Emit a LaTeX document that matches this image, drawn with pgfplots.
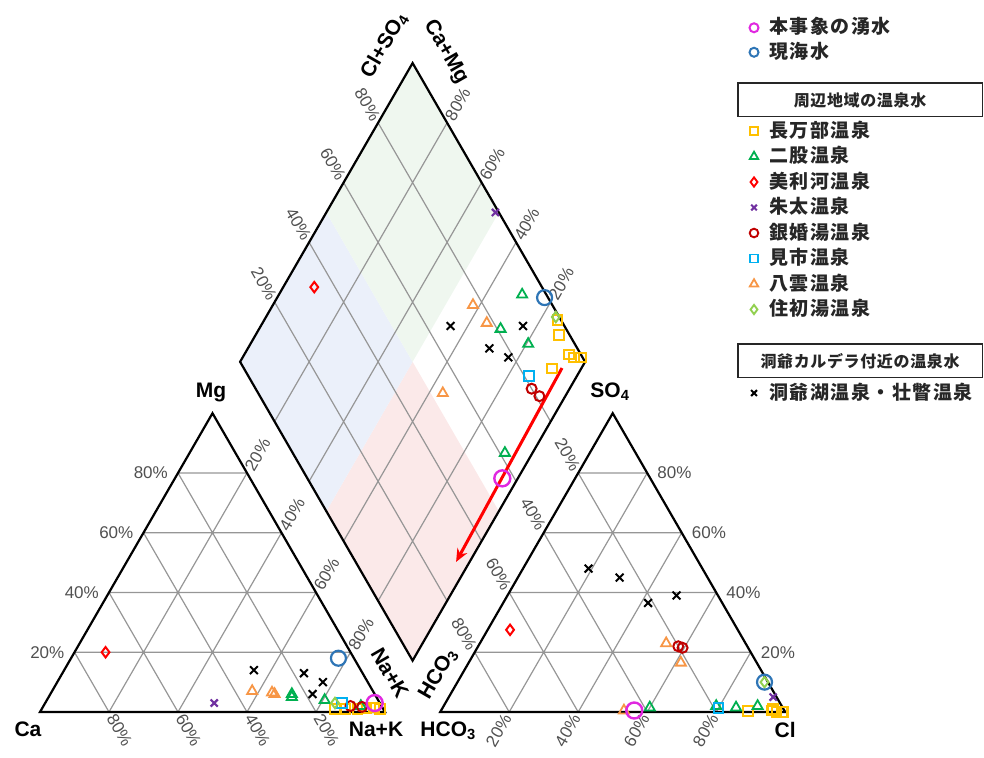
\documentclass[border=0pt]{standalone}
\usepackage{fontspec}
\setmainfont{Liberation Sans}
\newfontfamily\cjk{Noto Sans CJK JP}[LetterSpace=8]
\newfontfamily\cjkb{Noto Sans CJK JP}[LetterSpace=4]
\usepackage{pgfplots}
\usepackage{pgfplotstable}
\pgfplotsset{compat=1.18}
\usetikzlibrary{arrows.meta}

\definecolor{cMag}{RGB}{224,40,224}
\definecolor{cBlue}{RGB}{46,117,182}
\definecolor{cYel}{RGB}{255,192,0}
\definecolor{cGrn}{RGB}{0,176,80}
\definecolor{cRed}{RGB}{255,0,0}
\definecolor{cPur}{RGB}{112,48,160}
\definecolor{cDred}{RGB}{192,0,0}
\definecolor{cCyan}{RGB}{0,176,240}
\definecolor{cOra}{RGB}{247,150,70}
\definecolor{cLgrn}{RGB}{146,208,80}
\definecolor{cTick}{RGB}{80,80,80}
\definecolor{cGrid}{RGB}{150,150,150}
\definecolor{cPink}{RGB}{251,233,233}
\definecolor{cBlu}{RGB}{235,240,250}
\definecolor{cGre}{RGB}{239,247,239}

% columns: Na+K %, Mg % (cations, meq%), Cl %, SO4 % (anions, meq%)
\pgfplotstableread{
nak mg cl so4
95.5 3 56 0.5
}\dataHon
\pgfplotstableread{
nak mg cl so4
77.5 18 89 10
}\dataSea
\pgfplotstableread{
nak mg cl so4
85 1 99 0
88 1 96 1
94 1.2 96 0.5
96 1.5 97.5 0
91.5 1 89 0.3
98 1 99.5 0
}\dataOsha
\pgfplotstableread{
nak mg cl so4
70.5 5 91 2
70 6 79 2
80.5 4 85 1.5
92 2 60 1.5
}\dataFuta
\pgfplotstableread{
nak mg cl so4
9 20 6.5 27.5
}\dataPiri
\pgfplotstableread{
nak mg cl so4
49 3 94 5
}\dataShu
\pgfplotstableread{
nak mg cl so4
89 2 58 22
92.5 1.7 59.5 21.5
}\dataGin
\pgfplotstableread{
nak mg cl so4
86 3 80 1.3
}\dataMii
\pgfplotstableread{
nak mg cl so4
58 7 54 23
65 6 61.5 16.5
64 6.5 53 0.5
}\dataYaku
\pgfplotstableread{
nak mg cl so4
84 3 89 10
}\dataSumi
\pgfplotstableread{
nak mg cl so4
55 14 19 48
70 13 29.5 45
77 10 42 36.5
76 6 49 39
}\dataToya

% one sample set drawn in the cation triangle, the anion triangle and the diamond
\newcommand{\piper}[2]{%
  \addplot[#1, only marks, forget plot] table[x expr={\thisrow{nak}+0.5*\thisrow{mg}}, y expr={0.866*\thisrow{mg}}] {#2};
  \addplot[#1, only marks, forget plot] table[x expr={116+\thisrow{cl}+0.5*\thisrow{so4}}, y expr={0.866*\thisrow{so4}}] {#2};
  \addplot[#1, only marks, forget plot] table[x expr={108+0.5*(\thisrow{cl}+\thisrow{so4}-100+\thisrow{nak})}, y expr={14.9+0.866*(\thisrow{cl}+\thisrow{so4}+100-\thisrow{nak})}] {#2};
}
\newcommand{\legA}[1]{\rule[-6.5bp]{0pt}{24.5bp}#1}
\newcommand{\legB}[1]{\rule[-6.5bp]{0pt}{25.5bp}#1}
% #2 = total strut height, #3 = depth below baseline
\newcommand{\legbox}[3]{\rule[-#3]{0pt}{#2}\hspace*{-32bp}{\setlength{\fboxsep}{0pt}\setlength{\fboxrule}{1.5bp}\fbox{\makebox[243bp]{\rule[-9.5bp]{0pt}{32bp}{\cjkb\bfseries\fontsize{16bp}{16bp}\selectfont #1}}}}}

\tikzset{
  tk/.style={font=\fontsize{17bp}{20bp}\selectfont, text=cTick, inner sep=4bp},
  al/.style={font=\bfseries\fontsize{21bp}{24bp}\selectfont, inner sep=0pt},
}

\begin{document}
\begin{tikzpicture}
\begin{axis}[
  x=3.45bp, y=3.45bp,
  xmin=-11.594, xmax=273.623, ymin=-13.043, ymax=206.377,
  hide axis, clip=false,
  legend style={at={(axis cs:204.93,201.88)}, anchor=north west, draw=none, fill=none,
    inner sep=0pt, outer sep=0pt, row sep=0pt,
    font=\cjk\bfseries\fontsize{19bp}{20bp}\selectfont, text=black!85,
    nodes={inner sep=0pt, text depth=},
    /tikz/every odd column/.append style={column sep=8bp}},
  legend cell align=left,
  legend image code/.code={\path[draw=none,fill=none] (-7bp,-7bp) rectangle (7bp,7bp); \draw[#1] plot coordinates {(0bp,0bp)};},
]
% background tints of the diamond
\addplot[fill=cPink, draw=none, forget plot] coordinates {(108,14.9) (83,58.2) (108,101.5) (133,58.2)};
\addplot[fill=cBlu, draw=none, forget plot] coordinates {(83,58.2) (58,101.5) (83,144.8) (108,101.5)};
\addplot[fill=cGre, draw=none, forget plot] coordinates {(108,101.5) (83,144.8) (108,188.1) (133,144.8)};

% grid lines
\addplot[cGrid, line width=1.2bp, forget plot, unbounded coords=jump] coordinates {
 (10,17.32)(90,17.32) (nan,nan) (20,34.64)(80,34.64) (nan,nan) (30,51.96)(70,51.96) (nan,nan) (40,69.28)(60,69.28) (nan,nan)
 (80,0)(40,69.28) (nan,nan) (60,0)(30,51.96) (nan,nan) (40,0)(20,34.64) (nan,nan) (20,0)(10,17.32) (nan,nan)
 (20,0)(60,69.28) (nan,nan) (40,0)(70,51.96) (nan,nan) (60,0)(80,34.64) (nan,nan) (80,0)(90,17.32)};
\addplot[cGrid, line width=1.2bp, forget plot, unbounded coords=jump] coordinates {
 (126,17.32)(206,17.32) (nan,nan) (136,34.64)(196,34.64) (nan,nan) (146,51.96)(186,51.96) (nan,nan) (156,69.28)(176,69.28) (nan,nan)
 (196,0)(156,69.28) (nan,nan) (176,0)(146,51.96) (nan,nan) (156,0)(136,34.64) (nan,nan) (136,0)(126,17.32) (nan,nan)
 (136,0)(176,69.28) (nan,nan) (156,0)(186,51.96) (nan,nan) (176,0)(196,34.64) (nan,nan) (196,0)(206,17.32)};
\addplot[cGrid, line width=1.2bp, forget plot, unbounded coords=jump] coordinates {
 (98,32.22)(148,118.82) (nan,nan) (88,49.54)(138,136.14) (nan,nan) (78,66.86)(128,153.46) (nan,nan) (68,84.18)(118,170.78) (nan,nan)
 (118,32.22)(68,118.82) (nan,nan) (128,49.54)(78,136.14) (nan,nan) (138,66.86)(88,153.46) (nan,nan) (148,84.18)(98,170.78)};

% outlines
\addplot[black, line width=2.2bp, forget plot] coordinates {(0,0) (100,0) (50,86.6) (0,0)} -- cycle;
\addplot[black, line width=2.2bp, forget plot] coordinates {(116,0) (216,0) (166,86.6) (116,0)} -- cycle;
\addplot[black, line width=2.2bp, forget plot] coordinates {(108,14.9) (58,101.5) (108,188.1) (158,101.5) (108,14.9)} -- cycle;

% legend
\addlegendimage{only marks, mark=o, color=cMag, mark size=4.5bp, line width=2bp}
\addlegendentry{\legA{本事象の湧水}}
\addlegendimage{only marks, mark=o, color=cBlue, mark size=4.5bp, line width=2bp}
\addlegendentry{\legA{現海水}}
\addlegendimage{empty legend}
\addlegendentry{\legbox{周辺地域の温泉水}{53.75bp}{12.25bp}}
\addlegendimage{only marks, mark=square, color=cYel, mark size=4bp, line width=1.9bp}
\addlegendentry{\legB{長万部温泉}}
\addlegendimage{only marks, mark=triangle, color=cGrn, mark size=4.8bp, line width=1.8bp}
\addlegendentry{\legB{二股温泉}}
\addlegendimage{only marks, mark=diamond, color=cRed, mark size=4.6bp, line width=1.9bp}
\addlegendentry{\legB{美利河温泉}}
\addlegendimage{only marks, mark=x, color=cPur, mark size=4bp, line width=2.1bp}
\addlegendentry{\legB{朱太温泉}}
\addlegendimage{only marks, mark=o, color=cDred, mark size=4.3bp, line width=1.9bp}
\addlegendentry{\legB{銀婚湯温泉}}
\addlegendimage{only marks, mark=square, color=cCyan, mark size=4bp, line width=1.9bp}
\addlegendentry{\legB{見市温泉}}
\addlegendimage{only marks, mark=triangle, color=cOra, mark size=4.8bp, line width=1.8bp}
\addlegendentry{\legB{八雲温泉}}
\addlegendimage{only marks, mark=diamond, color=cLgrn, mark size=4.6bp, line width=1.9bp}
\addlegendentry{\legB{住初湯温泉}}
\addlegendimage{empty legend}
\addlegendentry{\legbox{洞爺カルデラ付近の温泉水}{58bp}{13.25bp}}
\addlegendimage{only marks, mark=x, color=black, mark size=4.2bp, line width=2.1bp}
\addlegendentry{\legB{洞爺湖温泉・壮瞥温泉}}

% data
\piper{mark=x, color=black, mark size=5.5bp, line width=2bp}{\dataToya}
\piper{mark=square, color=cYel, mark size=4.8bp, line width=2bp}{\dataOsha}
\piper{mark=triangle, color=cGrn, mark size=5.8bp, line width=1.8bp}{\dataFuta}
\piper{mark=diamond, color=cRed, mark size=5.2bp, line width=2bp}{\dataPiri}
\piper{mark=x, color=cPur, mark size=5bp, line width=2.2bp}{\dataShu}
\piper{mark=o, color=cDred, mark size=5bp, line width=2bp}{\dataGin}
\piper{mark=square, color=cCyan, mark size=4.8bp, line width=2bp}{\dataMii}
\piper{mark=triangle, color=cOra, mark size=5.8bp, line width=1.8bp}{\dataYaku}
\piper{mark=diamond, color=cLgrn, mark size=5.2bp, line width=2bp}{\dataSumi}
\piper{mark=o, color=cBlue, mark size=7.5bp, line width=2.2bp}{\dataSea}
\addplot[cRed, line width=3bp, -{Stealth[length=13bp, width=11bp]}, forget plot] coordinates {(151.3,99.7) (120.6,43.5)};
\piper{mark=o, color=cMag, mark size=8bp, line width=2.4bp}{\dataHon}

% tick labels: cation triangle
\node[tk, anchor=east, xshift=-6bp] at (axis cs:10,17.32) {20\%};
\node[tk, anchor=east, xshift=-6bp] at (axis cs:20,34.64) {40\%};
\node[tk, anchor=east, xshift=-6bp] at (axis cs:30,51.96) {60\%};
\node[tk, anchor=east, xshift=-6bp] at (axis cs:40,69.28) {80\%};
\node[tk, anchor=west, rotate=-60] at (axis cs:20,0) {80\%};
\node[tk, anchor=west, rotate=-60] at (axis cs:40,0) {60\%};
\node[tk, anchor=west, rotate=-60] at (axis cs:60,0) {40\%};
\node[tk, anchor=west, rotate=-60] at (axis cs:80,0) {20\%};
\node[tk, anchor=west, rotate=60] at (axis cs:60,69.28) {20\%};
\node[tk, anchor=west, rotate=60] at (axis cs:70,51.96) {40\%};
\node[tk, anchor=west, rotate=60] at (axis cs:80,34.64) {60\%};
\node[tk, anchor=west, rotate=60] at (axis cs:90,17.32) {80\%};
% anion triangle
\node[tk, anchor=east, rotate=60] at (axis cs:136,0) {20\%};
\node[tk, anchor=east, rotate=60] at (axis cs:156,0) {40\%};
\node[tk, anchor=east, rotate=60] at (axis cs:176,0) {60\%};
\node[tk, anchor=east, rotate=60] at (axis cs:196,0) {80\%};
\node[tk, anchor=east, rotate=-60] at (axis cs:156,69.28) {20\%};
\node[tk, anchor=east, rotate=-60] at (axis cs:146,51.96) {40\%};
\node[tk, anchor=east, rotate=-60] at (axis cs:136,34.64) {60\%};
\node[tk, anchor=east, rotate=-60] at (axis cs:126,17.32) {80\%};
\node[tk, anchor=west, xshift=6bp] at (axis cs:206,17.32) {20\%};
\node[tk, anchor=west, xshift=6bp] at (axis cs:196,34.64) {40\%};
\node[tk, anchor=west, xshift=6bp] at (axis cs:186,51.96) {60\%};
\node[tk, anchor=west, xshift=6bp] at (axis cs:176,69.28) {80\%};
% diamond
\node[tk, anchor=east, rotate=-60] at (axis cs:68,118.82) {20\%};
\node[tk, anchor=east, rotate=-60] at (axis cs:78,136.14) {40\%};
\node[tk, anchor=east, rotate=-60] at (axis cs:88,153.46) {60\%};
\node[tk, anchor=east, rotate=-60] at (axis cs:98,170.78) {80\%};
\node[tk, anchor=west, rotate=60] at (axis cs:148,118.82) {20\%};
\node[tk, anchor=west, rotate=60] at (axis cs:138,136.14) {40\%};
\node[tk, anchor=west, rotate=60] at (axis cs:128,153.46) {60\%};
\node[tk, anchor=west, rotate=60] at (axis cs:118,170.78) {80\%};

% axis titles
\node[al] at (axis cs:49.6,92.5) {Mg};
\node[al] at (axis cs:-3.5,-4.9) {Ca};
\node[al] at (axis cs:97.4,-4.9) {Na+K};
\node[al] at (axis cs:118.3,-5.4) {HCO\textsubscript{3}};
\node[al] at (axis cs:216,-5.2) {Cl};
\node[al] at (axis cs:165.2,92.8) {SO\textsubscript{4}};
\node[al, rotate=60] at (axis cs:99.8,193.2) {Cl+SO\textsubscript{4}};
\node[al, rotate=-60] at (axis cs:117.6,191.3) {Ca+Mg};
\node[al, rotate=-60] at (axis cs:101.4,11.3) {Na+K};
\node[al, rotate=60] at (axis cs:115.4,11.0) {HCO\textsubscript{3}};
\end{axis}
\pgfresetboundingbox
\useasboundingbox (current axis.south west) rectangle (current axis.north east);
\end{tikzpicture}
\end{document}
